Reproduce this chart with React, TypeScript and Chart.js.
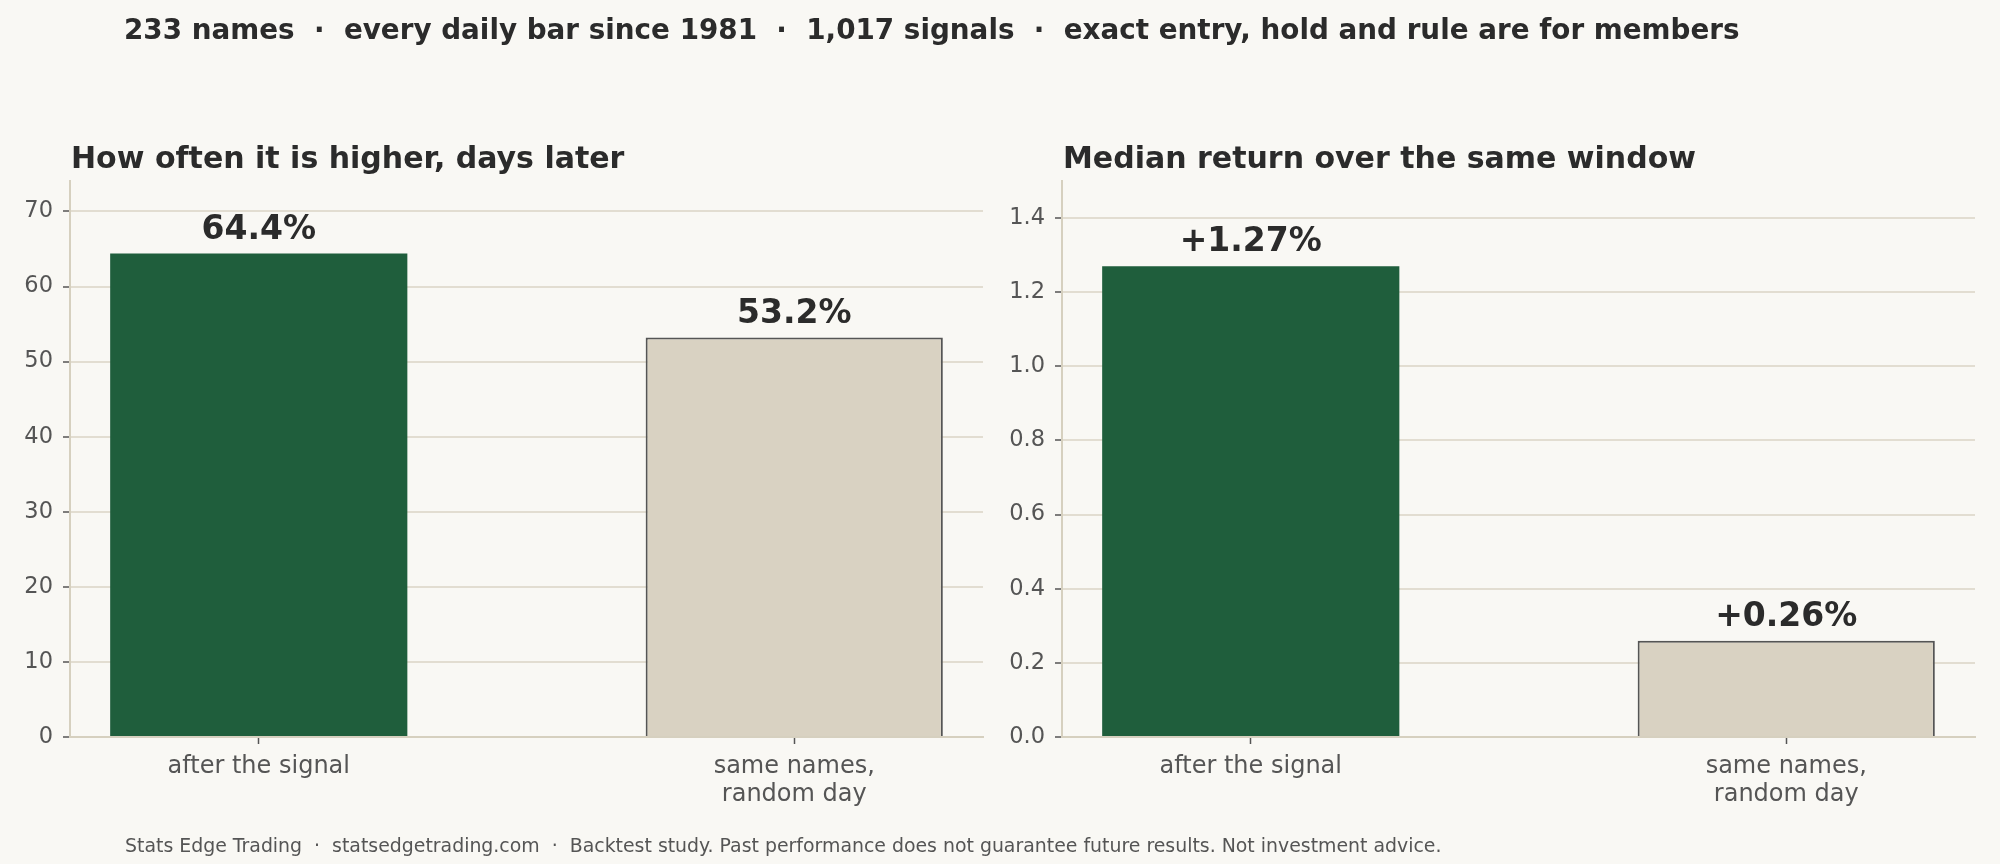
import { useEffect, useRef } from 'react';
import { Chart, registerables } from 'chart.js';

Chart.register(...registerables);

const FONT = "'DejaVu Sans', sans-serif";

const categories = [['after the signal'], ['same names,', 'random day']];
const hitRate = [64.4, 53.2];
const medianReturn = [1.27, 0.26];

const header = '233 names  ·  every daily bar since 1981  ·  1,017 signals  ·  exact entry, hold and rule are for members';
const footer = 'Stats Edge Trading  ·  statsedgetrading.com  ·  Backtest study. Past performance does not guarantee future results. Not investment advice.';
const leftTitle = 'How often it is higher, days later';
const rightTitle = 'Median return over the same window';

const GREEN = '#1f5e3c';
const BEIGE = '#d9d2c2';
const BG = '#f9f8f4';

// value labels on top of the bars
const valueLabels = {
  id: 'valueLabels',
  afterDraw(chart: Chart, _args: any, opts: any) {
    const ctx = chart.ctx;
    const meta = chart.getDatasetMeta(0);
    ctx.save();
    ctx.font = `bold 33px ${FONT}`;
    ctx.fillStyle = '#2b2b2b';
    ctx.textAlign = 'center';
    ctx.textBaseline = 'alphabetic';
    meta.data.forEach((bar: any, i: number) => {
      const v = chart.data.datasets[0].data[i] as any;
      ctx.fillText(opts.format(v.y), bar.x, bar.y - 15);
    });
    ctx.restore();
  },
};

function BarPanel({ values, yMax, step, decimals, format }: {
  values: number[];
  yMax: number;
  step: number;
  decimals: number;
  format: (v: number) => string;
}) {
  const canvasRef = useRef<HTMLCanvasElement>(null);
  const chartRef = useRef<Chart | null>(null);

  useEffect(() => {
    if (!canvasRef.current) return;
    if (chartRef.current) chartRef.current.destroy();

    chartRef.current = new Chart(canvasRef.current, {
      type: 'bar',
      data: {
        datasets: [{
          data: values.map((v, i) => ({ x: i, y: v })),
          backgroundColor: [GREEN, BEIGE],
          borderColor: [GREEN, '#555555'],
          borderWidth: [0, 2],
          categoryPercentage: 1,
          barPercentage: 0.555,
        }],
      },
      options: {
        responsive: false,
        animation: false,
        devicePixelRatio: 1,
        layout: { padding: { left: 10, right: 17, top: 181, bottom: 47 } },
        plugins: {
          legend: { display: false },
          tooltip: { enabled: false },
          valueLabels: { format },
        } as any,
        scales: {
          x: {
            type: 'linear',
            min: -0.3525,
            max: 1.3525,
            offset: false,
            afterBuildTicks: (scale: any) => {
              scale.ticks = values.map((_, i) => ({ value: i }));
            },
            afterFit: (scale: any) => { scale.height = 80; },
            ticks: {
              callback: (v: any) => categories[v] ?? '',
              color: '#555555',
              font: { family: FONT, size: 24 },
              padding: 8,
              maxRotation: 0,
            },
            grid: {
              offset: false,
              drawOnChartArea: false,
              drawTicks: true,
              tickLength: 7,
              tickColor: '#555555',
              tickWidth: 1.5,
            },
            border: { color: '#d6d0bf', width: 2 },
          },
          y: {
            min: 0,
            max: yMax,
            z: 1,
            afterFit: (scale: any) => { scale.width = 60; },
            ticks: {
              stepSize: step,
              includeBounds: false,
              callback: (v: any) => Number(v).toFixed(decimals),
              color: '#555555',
              font: { family: FONT, size: 22.5 },
              padding: 10,
            },
            grid: {
              color: 'rgba(218,212,198,0.75)',
              lineWidth: 2,
              drawTicks: true,
              tickLength: 7,
              tickColor: '#555555',
              tickWidth: 1.5,
            },
            border: { color: '#d6d0bf', width: 2 },
          },
        },
      },
      plugins: [valueLabels],
    });

    return () => {
      if (chartRef.current) {
        chartRef.current.destroy();
        chartRef.current = null;
      }
    };
  }, [values, yMax, step, decimals, format]);

  return <canvas ref={canvasRef} width={1000} height={864} style={{ width: 1000, height: 864 }} />;
}

const fmtPct = (v: number) => `${v.toFixed(1)}%`;
const fmtRet = (v: number) => `+${v.toFixed(2)}%`;

export default function App() {
  const text = (extra: React.CSSProperties): React.CSSProperties => ({
    position: 'absolute',
    fontFamily: FONT,
    lineHeight: 1,
    whiteSpace: 'pre',
    margin: 0,
    ...extra,
  });

  return (
    <div style={{ position: 'fixed', left: 0, top: 0, width: 2000, height: 864, background: BG, overflow: 'hidden' }}>
      <div style={{ position: 'absolute', left: 0, top: 0 }}>
        <BarPanel values={hitRate} yMax={64.4 * 1.15} step={10} decimals={0} format={fmtPct} />
      </div>
      <div style={{ position: 'absolute', left: 992, top: 0 }}>
        <BarPanel values={medianReturn} yMax={1.5} step={0.2} decimals={1} format={fmtRet} />
      </div>
      <div style={text({ left: 124, top: 16, fontSize: 27.8, fontWeight: 'bold', color: '#2b2b2b' })}>{header}</div>
      <div style={text({ left: 71, top: 143, fontSize: 30, fontWeight: 'bold', color: '#2b2b2b' })}>{leftTitle}</div>
      <div style={text({ left: 1063, top: 143, fontSize: 30, fontWeight: 'bold', color: '#2b2b2b' })}>{rightTitle}</div>
      <div style={text({ left: 125, top: 836, fontSize: 18.9, color: '#555555' })}>{footer}</div>
    </div>
  );
}
